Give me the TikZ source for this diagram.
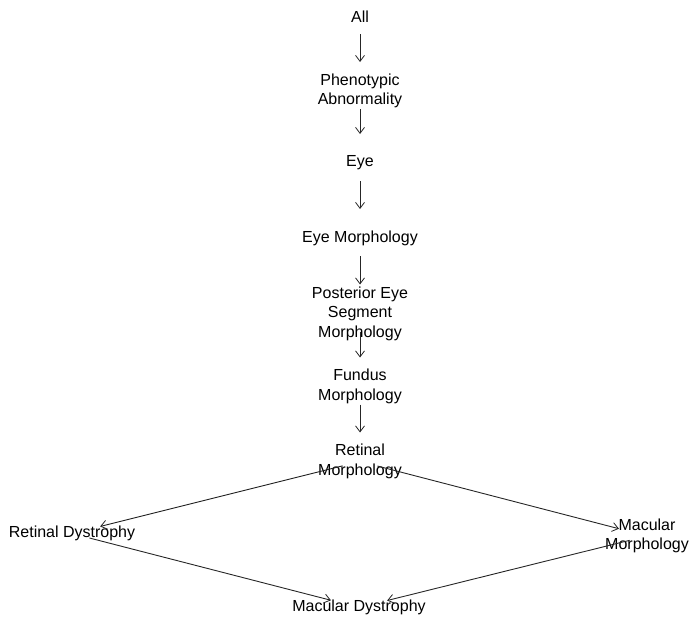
\documentclass[tikz,border=0pt]{standalone}
\usepackage{fontspec}
\setmainfont{Liberation Sans}
\usetikzlibrary{arrows.meta}
\begin{document}
\begin{tikzpicture}[x=1pt,y=-1pt,
  lbl/.style={inner sep=0pt,align=center,font=\fontsize{16}{19.5}\selectfont},
  edge/.style={draw=black!85,line width=0.9pt,-{Straight Barb[length=6pt,width=9pt,line width=0.8pt]},
    shorten <=18pt,shorten >=29pt}]
\useasboundingbox (0,0) rectangle (692,618);
\node[lbl] (all) at (360,16.5) {All};
\node[lbl] (phe) at (360,91) {Phenotypic\\Abnormality};
\node[lbl] (eye) at (360,163) {Eye};
\node[lbl] (eyem) at (360,238) {Eye Morphology};
\node[lbl] (post) at (360,313.5) {Posterior Eye\\Segment\\Morphology};
\node[lbl] (fund) at (360,386.5) {Fundus\\Morphology};
\node[lbl] (ret) at (360,461.5) {Retinal\\Morphology};
\node[lbl] (retd) at (72,533.5) {Retinal Dystrophy};
\node[lbl] (macm) at (647,536) {Macular\\Morphology};
\node[lbl] (macd) at (359,607.5) {Macular Dystrophy};
\draw[edge] (all.center) -- (phe.center);
\draw[edge] (phe.center) -- (eye.center);
\draw[edge] (eye.center) -- (eyem.center);
\draw[edge] (eyem.center) -- (post.center);
\draw[edge] (post.center) -- (fund.center);
\draw[edge] (fund.center) -- (ret.center);
\draw[edge] (ret.center) -- (retd.center);
\draw[edge] (ret.center) -- (macm.center);
\draw[edge] (retd.center) -- (macd.center);
\draw[edge] (macm.center) -- (macd.center);
\end{tikzpicture}
\end{document}
